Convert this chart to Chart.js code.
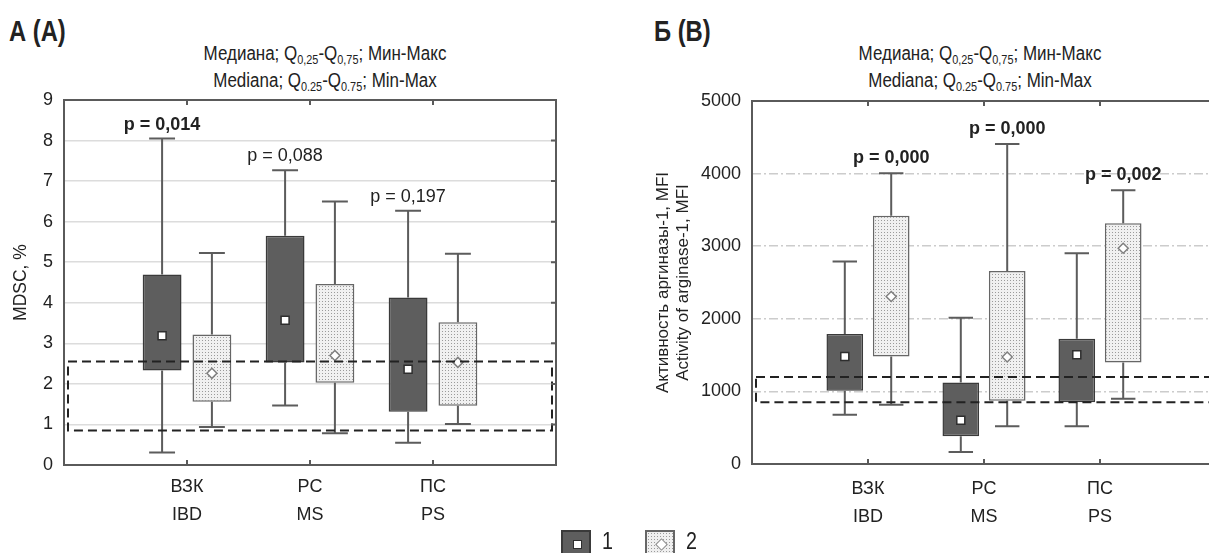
<!DOCTYPE html>
<html lang="ru">
<head>
<meta charset="utf-8">
<script src="https://cdn.jsdelivr.net/npm/chart.js@4.4.1/dist/chart.umd.min.js"></script>
<style>
    html, body { margin: 0; padding: 0; background: #fff; }
    body {
        position: relative;
        width: 1209px;
        height: 553px;
        overflow: hidden;
        color: #222;
        font-family: 'Liberation Sans', Arial, sans-serif;
    }
    .panel {
        position: absolute;
        top: 15px;
        font-size: 29px;
        font-weight: bold;
        transform: scaleX(0.82);
        transform-origin: left center;
    }
    .heading {
        position: absolute;
        top: 40px;
        width: 320px;
        text-align: center;
        font-size: 19.5px;
        line-height: 27px;
        white-space: nowrap;
        transform: scaleX(0.87);
        transform-origin: center;
    }
    .heading sub { font-size: 12.5px; line-height: 0; vertical-align: -4px; }
    .chart { position: absolute; top: 0; }
    .swatch {
        position: absolute;
        top: 530px;
        width: 30px;
        height: 30px;
        box-sizing: border-box;
    }
    .swatch.dark { background: #5e5e5e; border: 2px solid #3a3a3a; }
    .swatch.dotted {
        background-color: #efefef;
        background-image: radial-gradient(#9a9a9a 0.7px, transparent 0.9px);
        background-size: 3px 3px;
        border: 2px solid #666;
    }
    .swatch i {
        position: absolute;
        left: 10px;
        top: 8px;
        width: 7px;
        height: 7px;
        background: #fff;
        border: 1.5px solid #2e2e2e;
    }
    .swatch.dotted i { border-color: #888; transform: rotate(45deg); }
    .legend-text {
        position: absolute;
        top: 527px;
        font-size: 24px;
        transform: scaleX(0.82);
        transform-origin: left center;
    }
</style>
</head>
<body>
<div class="panel" style="left: 9px">А (A)</div>
<div class="panel" style="left: 654px">Б (B)</div>

<div class="heading" style="left: 165px">Медиана; Q<sub>0,25</sub>-Q<sub>0,75</sub>; Мин-Макс<br>Mediana; Q<sub>0.25</sub>-Q<sub>0.75</sub>; Min-Max</div>
<div class="heading" style="left: 820px">Медиана; Q<sub>0,25</sub>-Q<sub>0,75</sub>; Мин-Макс<br>Mediana; Q<sub>0.25</sub>-Q<sub>0.75</sub>; Min-Max</div>

<canvas id="mdscChart" class="chart" style="left: 0" width="600" height="553"></canvas>
<canvas id="arginaseChart" class="chart" style="left: 640px" width="620" height="553"></canvas>

<span class="swatch dark" style="left: 561px"><i></i></span>
<span class="legend-text" style="left: 602px">1</span>
<span class="swatch dotted" style="left: 645px"><i></i></span>
<span class="legend-text" style="left: 686px">2</span>

<script>
const categories = ['ВЗК', 'РС', 'ПС']
const categoriesEn = ['IBD', 'MS', 'PS']

// MDSC, % — group 1 (dark) and group 2 (dotted)
const mdscMin1 = [0.31, 1.47, 0.55]
const mdscQ1_1 = [2.33, 2.53, 1.31]
const mdscMedian1 = [3.19, 3.57, 2.36]
const mdscQ3_1 = [4.70, 5.65, 4.13]
const mdscMax1 = [8.05, 7.27, 6.27]

const mdscMin2 = [0.94, 0.78, 1.01]
const mdscQ1_2 = [1.56, 2.03, 1.46]
const mdscMedian2 = [2.26, 2.70, 2.53]
const mdscQ3_2 = [3.22, 4.46, 3.52]
const mdscMax2 = [5.23, 6.50, 5.21]

const mdscNorm = [0.85, 2.55]
const mdscPValues = ['p = 0,014', 'p = 0,088', 'p = 0,197']
const mdscPBold = [true, false, false]
const mdscTicks = [0, 1, 2, 3, 4, 5, 6, 7, 8, 9]

// arginase-1 activity, MFI
const argMin1 = [680, 166, 519]
const argQ1_1 = [1010, 381, 849]
const argMedian1 = [1482, 601, 1505]
const argQ3_1 = [1790, 1124, 1725]
const argMax1 = [2790, 2014, 2904]

const argMin2 = [817, 519, 900]
const argQ1_2 = [1482, 872, 1399]
const argMedian2 = [2307, 1473, 2972]
const argQ3_2 = [3421, 2660, 3316]
const argMax2 = [4004, 4407, 3770]

const argNorm = [850, 1200]
const argPValues = ['p = 0,000', 'p = 0,000', 'p = 0,002']
const argPBold = [true, true, true]
const argTicks = [0, 1000, 2000, 3000, 4000, 5000]

const FONT = "'Liberation Sans', Arial, sans-serif"
Chart.defaults.font.family = FONT
Chart.defaults.color = '#222'

// empty slot on both sides, like the original axis
const pad = values => [null, ...values, null]
const axisLabels = ['', ...categories.map((name, i) => [name, categoriesEn[i]]), '']

function makeDotPattern() {
    const tile = document.createElement('canvas')
    tile.width = 3
    tile.height = 3
    const t = tile.getContext('2d')
    t.fillStyle = '#f0f0f0'
    t.fillRect(0, 0, 3, 3)
    t.fillStyle = '#9a9a9a'
    t.fillRect(1, 1, 1, 1)
    return t.createPattern(tile, 'repeat')
}

function boxDataset(q1, q3, min, median, max, group) {
    const dark = group === 0
    return {
        data: pad(q1.map((value, i) => [value, q3[i]])),
        whiskerMin: pad(min),
        whiskerMax: pad(max),
        median: pad(median),
        group,
        backgroundColor: dark ? '#5e5e5e' : makeDotPattern(),
        borderColor: dark ? '#3a3a3a' : '#666',
        borderWidth: 1.5,
        borderSkipped: false
    }
}

const boxWhiskers = {
    id: 'boxWhiskers',
    afterDatasetsDraw(chart) {
        const { ctx, scales: { y } } = chart
        chart.data.datasets.forEach((dataset, di) => {
            chart.getDatasetMeta(di).data.forEach((bar, i) => {
                const box = dataset.data[i]
                if (!box) return
                const top = y.getPixelForValue(dataset.whiskerMax[i])
                const bottom = y.getPixelForValue(dataset.whiskerMin[i])
                const half = bar.width / 3

                ctx.save()
                ctx.strokeStyle = '#5c5c5c'
                ctx.lineWidth = 2
                ctx.beginPath()
                ctx.moveTo(bar.x, y.getPixelForValue(box[1]))
                ctx.lineTo(bar.x, top)
                ctx.moveTo(bar.x, y.getPixelForValue(box[0]))
                ctx.lineTo(bar.x, bottom)
                ctx.moveTo(bar.x - half, top)
                ctx.lineTo(bar.x + half, top)
                ctx.moveTo(bar.x - half, bottom)
                ctx.lineTo(bar.x + half, bottom)
                ctx.stroke()

                // median marker
                const my = y.getPixelForValue(dataset.median[i])
                ctx.fillStyle = '#fff'
                ctx.lineWidth = 1.5
                ctx.beginPath()
                if (dataset.group === 0) {
                    ctx.rect(bar.x - 4, my - 4, 8, 8)
                    ctx.strokeStyle = '#2e2e2e'
                } else {
                    ctx.moveTo(bar.x, my - 5)
                    ctx.lineTo(bar.x + 5, my)
                    ctx.lineTo(bar.x, my + 5)
                    ctx.lineTo(bar.x - 5, my)
                    ctx.closePath()
                    ctx.strokeStyle = '#808080'
                }
                ctx.fill()
                ctx.stroke()
                ctx.restore()
            })
        })
    }
}

const normBand = {
    id: 'normBand',
    afterDatasetsDraw(chart, args, opts) {
        const { ctx, chartArea, scales: { y } } = chart
        const top = y.getPixelForValue(opts.range[1])
        const bottom = y.getPixelForValue(opts.range[0])
        ctx.save()
        ctx.strokeStyle = '#222'
        ctx.lineWidth = 2
        ctx.setLineDash([9, 5])
        ctx.strokeRect(chartArea.left + opts.inset, top, chartArea.width - opts.inset * 2, bottom - top)
        ctx.restore()
    }
}

const pLabels = {
    id: 'pLabels',
    afterDatasetsDraw(chart, args, opts) {
        const { ctx, scales: { y } } = chart
        const datasetIndex = chart.data.datasets.findIndex(d => d.group === opts.group)
        const dataset = chart.data.datasets[datasetIndex]
        const bars = chart.getDatasetMeta(datasetIndex).data
        ctx.save()
        ctx.fillStyle = '#222'
        ctx.textAlign = 'center'
        ctx.textBaseline = 'alphabetic'
        opts.texts.forEach((text, i) => {
            const bar = bars[i + 1]
            ctx.font = `${opts.bold[i] ? 'bold ' : ''}18px ${FONT}`
            ctx.fillText(text, bar.x, y.getPixelForValue(dataset.whiskerMax[i + 1]) - opts.gap)
        })
        ctx.restore()
    }
}

const plotFrame = {
    id: 'plotFrame',
    afterDraw(chart) {
        const { ctx, chartArea: area, scales: { x, y } } = chart
        ctx.save()
        ctx.strokeStyle = '#5a5a5a'
        ctx.lineWidth = 2
        ctx.strokeRect(area.left, area.top, area.width, area.height)
        ctx.beginPath()
        for (let i = 1; i < axisLabels.length - 1; i++) {
            const px = x.getPixelForTick(i)
            ctx.moveTo(px, area.bottom)
            ctx.lineTo(px, area.bottom - 5)
            ctx.moveTo(px, area.top)
            ctx.lineTo(px, area.top + 5)
        }
        y.ticks.forEach((tick, i) => {
            const py = y.getPixelForTick(i)
            ctx.moveTo(area.right, py)
            ctx.lineTo(area.right - 5, py)
        })
        ctx.stroke()
        ctx.restore()
    }
}

function renderBoxChart(canvasId, setup) {
    return new Chart(document.getElementById(canvasId), {
        type: 'bar',
        data: {
            labels: axisLabels,
            datasets: setup.datasets
        },
        options: {
            responsive: false,
            animation: false,
            categoryPercentage: setup.categoryPercentage,
            barPercentage: setup.barPercentage,
            layout: { padding: setup.padding },
            plugins: {
                legend: { display: false },
                tooltip: { enabled: false },
                normBand: { range: setup.norm, inset: 4 },
                pLabels: { texts: setup.pValues, bold: setup.pBold, group: setup.pGroup, gap: setup.pGap }
            },
            scales: {
                x: {
                    offset: false,
                    grid: { display: false, drawTicks: false },
                    border: { display: false },
                    ticks: {
                        autoSkip: false,
                        maxRotation: 0,
                        padding: setup.xPadding,
                        font: { size: 18, lineHeight: 1.55 }
                    },
                    afterFit: scale => { scale.height = setup.xHeight }
                },
                y: {
                    min: setup.ticks[0],
                    max: setup.ticks[setup.ticks.length - 1],
                    afterBuildTicks: scale => { scale.ticks = setup.ticks.map(value => ({ value })) },
                    grid: { color: setup.gridColor, lineWidth: 1.5, drawTicks: false },
                    border: { display: false, dash: setup.gridDash },
                    ticks: {
                        padding: 11,
                        font: { size: 18 },
                        callback: value => String(value)
                    },
                    title: {
                        display: true,
                        text: setup.yTitle,
                        font: { size: setup.yTitleSize, lineHeight: setup.yTitleLine },
                        padding: { top: setup.yTitlePad, bottom: 0 }
                    },
                    afterFit: scale => { scale.width = setup.yWidth }
                }
            }
        },
        plugins: [boxWhiskers, normBand, pLabels, plotFrame]
    })
}

renderBoxChart('mdscChart', {
    datasets: [
        boxDataset(mdscQ1_1, mdscQ3_1, mdscMin1, mdscMedian1, mdscMax1, 0),
        boxDataset(mdscQ1_2, mdscQ3_2, mdscMin2, mdscMedian2, mdscMax2, 1)
    ],
    ticks: mdscTicks,
    norm: mdscNorm,
    pValues: mdscPValues,
    pBold: mdscPBold,
    pGroup: 0,
    pGap: 9,
    categoryPercentage: 0.81,
    barPercentage: 0.78,
    padding: { top: 100, right: 44, left: 0, bottom: 0 },
    xHeight: 88,
    xPadding: 8,
    yWidth: 64,
    gridColor: '#dcdcdc',
    gridDash: [],
    yTitle: 'MDSC, %',
    yTitleSize: 17.5,
    yTitleLine: 1.2,
    yTitlePad: 11
})

renderBoxChart('arginaseChart', {
    datasets: [
        boxDataset(argQ1_1, argQ3_1, argMin1, argMedian1, argMax1, 0),
        boxDataset(argQ1_2, argQ3_2, argMin2, argMedian2, argMax2, 1)
    ],
    ticks: argTicks,
    norm: argNorm,
    pValues: argPValues,
    pBold: argPBold,
    pGroup: 1,
    pGap: 10,
    categoryPercentage: 0.8,
    barPercentage: 0.79,
    padding: { top: 101, right: 44, left: 0, bottom: 0 },
    xHeight: 89,
    xPadding: 11,
    yWidth: 112,
    gridColor: '#cccccc',
    gridDash: [9, 3, 2, 3],
    yTitle: ['Активность аргиназы-1, MFI', 'Activity of arginase-1, MFI'],
    yTitleSize: 17,
    yTitleLine: 1.18,
    yTitlePad: 13
})
</script>
</body>
</html>
